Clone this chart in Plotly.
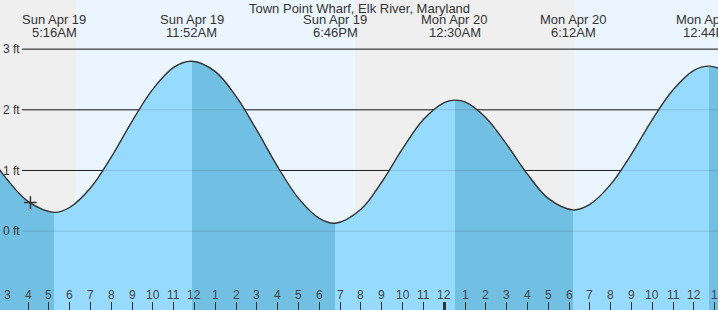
import pandas as pd
import plotly.graph_objects as go

# ---------------- data ----------------
title_text = "Town Point Wharf, Elk River, Maryland"

extreme_times = ["2020-04-19 05:16", "2020-04-19 11:52", "2020-04-19 18:46",
                 "2020-04-20 00:30", "2020-04-20 06:12", "2020-04-20 12:44"]
extreme_heights = [0.31, 2.80, 0.13, 2.16, 0.35, 2.72]
extreme_kinds = ["low", "high", "low", "high", "low", "high"]

# tide height (ft), hours after Sun Apr 19 00:00
hour_offsets = [2.5, 3, 4, 6, 7, 8, 9, 10, 11, 13, 14, 15, 16, 17, 18,
                20, 21, 22, 23, 24, 25, 26, 27, 28, 29, 31, 32, 33, 34, 35,
                36, 37.5]
hour_heights = [1.08, 0.85, 0.49, 0.39, 0.71, 1.22, 1.81, 2.34, 2.70,
                2.63, 2.22, 1.66, 1.06, 0.54, 0.21, 0.36, 0.81, 1.36, 1.84,
                2.12, 2.13, 1.87, 1.43, 0.94, 0.54, 0.44, 0.77, 1.27, 1.84,
                2.33, 2.65, 2.64]

sun_events = ["2020-04-19 06:18", "2020-04-19 19:43", "2020-04-20 06:16"]  # rise, set, rise

now_time = "2020-04-19 04:07"
now_height = 0.47

y_ticks = [0, 1, 2, 3]
y_tick_labels = ["0 ft", "1 ft", "2 ft", "3 ft"]
hour_ticks = pd.date_range("2020-04-19 03:00", "2020-04-20 13:00", freq="h")
hour_tick_labels = [t.strftime("%-I") for t in hour_ticks]
midnight = "2020-04-20 00:00"

x_range = ["2020-04-19 02:39:15", "2020-04-20 13:09:22"]
y_range = [-1.30, 3.81]

# ---------------- styles ----------------
FONT = "Liberation Sans, Arial, sans-serif"
NIGHT = "#efefef"
DAY = "#ebf5ff"
RISING = "#96dbfe"
FALLING = "#72bfe4"
LINE = "#333333"

base = pd.Timestamp("2020-04-19 00:00")
curve = pd.DataFrame({
    "t": list(base + pd.to_timedelta(hour_offsets, unit="h")) + list(pd.to_datetime(extreme_times)),
    "h": hour_heights + extreme_heights,
}).sort_values("t").reset_index(drop=True)

ext_t = list(pd.to_datetime(extreme_times))
t_first, t_last = curve["t"].iloc[0], curve["t"].iloc[-1]
span = (t_last - t_first).total_seconds()

# colour bands: falling tide (towards a low) darker, rising tide lighter
scale = []
prev = 0.0
for t, kind in zip(ext_t, extreme_kinds):
    c = FALLING if kind == "low" else RISING
    p = (t - t_first).total_seconds() / span
    scale += [[prev, c], [p, c]]
    prev = p
last_c = FALLING if extreme_kinds[-1] == "high" else RISING
scale += [[prev, last_c], [1.0, last_c]]

fig = go.Figure()
fig.add_trace(go.Scatter(
    x=[t_first, t_last], y=[y_range[0], y_range[0]],
    mode="lines", line=dict(width=0), hoverinfo="skip", showlegend=False))
fig.add_trace(go.Scatter(
    x=curve["t"], y=curve["h"], mode="lines", fill="tonexty",
    fillgradient=dict(type="horizontal", colorscale=scale),
    line=dict(color=LINE, width=1.4, shape="spline"), hoverinfo="skip", showlegend=False))

fig.add_trace(go.Scatter(
    x=[now_time], y=[now_height], mode="markers",
    marker=dict(symbol="cross-thin", size=9, line=dict(color=LINE, width=1.5)),
    hoverinfo="skip", showlegend=False))

# helper trace for the heavier midnight tick
fig.add_trace(go.Scatter(x=[midnight], y=[0], xaxis="x2", mode="markers",
                         marker=dict(opacity=0), hoverinfo="skip", showlegend=False))

shapes = []
edges = [x_range[0]] + sun_events + [x_range[1]]
for i in range(len(edges) - 1):
    shapes.append(dict(type="rect", xref="x", yref="paper", x0=edges[i], x1=edges[i + 1],
                       y0=0, y1=1, fillcolor=NIGHT if i % 2 == 0 else DAY,
                       line=dict(width=0), layer="below"))
for v in y_ticks:
    shapes.append(dict(type="line", xref="paper", yref="y", x0=22 / 718, x1=1, y0=v, y1=v,
                       line=dict(color="#222222", width=1), layer="below"))
for v in y_ticks:
    shapes.append(dict(type="line", xref="paper", yref="y", x0=22 / 718, x1=1, y0=v, y1=v,
                       line=dict(color="rgba(0,0,0,0.12)", width=1), layer="above"))

annotations = [dict(text=title_text, xref="paper", yref="paper", x=0.5, y=1 - 8.5 / 310,
                    yanchor="middle", showarrow=False, font=dict(size=13, color="#333333", family=FONT))]
for t in ext_t:
    annotations.append(dict(text=t.strftime("%a %b %-d"), xref="x", yref="paper", x=t,
                            y=1 - 19.5 / 310, yanchor="middle", showarrow=False,
                            font=dict(size=13, color="#333333", family=FONT)))
    annotations.append(dict(text=t.strftime("%-I:%M%p"), xref="x", yref="paper", x=t,
                            y=1 - 32 / 310, yanchor="middle", showarrow=False,
                            font=dict(size=13, color="#333333", family=FONT)))
for t, lab in zip(hour_ticks, hour_tick_labels):
    annotations.append(dict(text=lab, xref="x", yref="paper", x=t, y=15 / 310,
                            yanchor="middle", showarrow=False,
                            font=dict(size=12, color="#444444", family=FONT)))

fig.update_layout(
    width=718, height=310, autosize=False,
    margin=dict(l=0, r=0, t=0, b=0, pad=0),
    paper_bgcolor=NIGHT, plot_bgcolor=NIGHT,
    showlegend=False, hovermode=False,
    font=dict(family=FONT, size=12, color="#444444"),
    xaxis=dict(type="date", range=x_range, showgrid=False, zeroline=False, showline=False,
               showticklabels=False, ticks="inside", ticklen=8, tickwidth=1, tickcolor=LINE,
               tickmode="array", tickvals=list(hour_ticks), fixedrange=True),
    xaxis2=dict(type="date", overlaying="x", matches="x", range=x_range, side="bottom",
                showgrid=False, zeroline=False, showline=False, showticklabels=False,
                ticks="inside", ticklen=8, tickwidth=3, tickcolor=LINE,
                tickmode="array", tickvals=[midnight], fixedrange=True),
    yaxis=dict(range=y_range, showgrid=False, zeroline=False, showline=False,
               tickmode="array", tickvals=y_ticks, ticktext=y_tick_labels,
               ticks="", ticklabelposition="inside",
               tickfont=dict(size=12, color="#333333"), fixedrange=True),
    shapes=shapes, annotations=annotations,
)

fig.write_html("out.html")
